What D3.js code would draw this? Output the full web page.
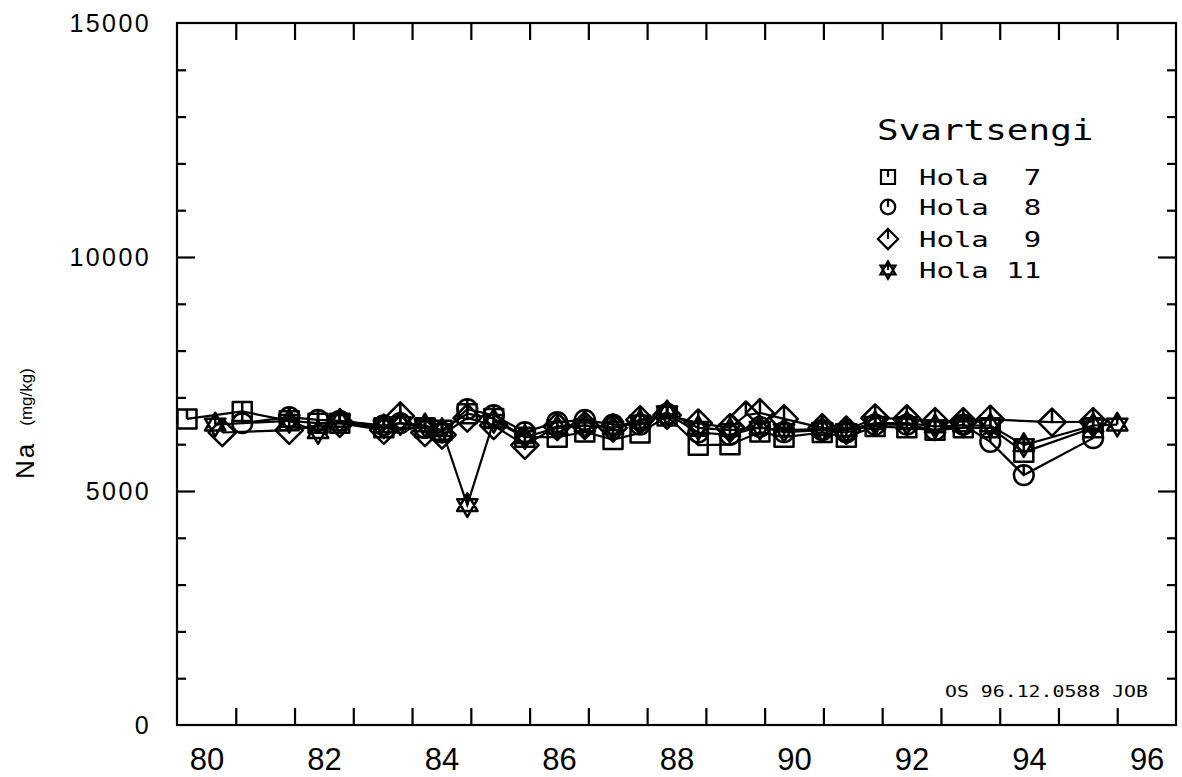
<!DOCTYPE html>
<html>
<head>
<meta charset="utf-8">
<script src="https://cdn.jsdelivr.net/npm/d3@7"></script>
<style>
  html, body { margin: 0; padding: 0; background: #fff; }
  svg { display: block; }
</style>
</head>
<body>
<svg id="chart" width="1182" height="777"></svg>
<script>
// ---------------- data ----------------
const seriesNames = ["Hola  7", "Hola  8", "Hola  9", "Hola 11"];
const legendTitle = "Svartsengi";
const yLabelMain = "Na";
const yLabelUnit = "(mg/kg)";
const footnote = "OS 96.12.0588 JOB";

const xLabelValues = [80, 82, 84, 86, 88, 90, 92, 94, 96];
const xTickValues = [80.5, 81.5, 82.5, 83.5, 84.5, 85.5, 86.5, 87.5, 88.5, 89.5, 90.5, 91.5, 92.5, 93.5, 94.5, 95.5];
const yLabelValues = [0, 5000, 10000, 15000];
const yMinorTicks = [1000, 2000, 3000, 4000, 6000, 7000, 8000, 9000, 11000, 12000, 13000, 14000];
const yMajorTicks = [5000, 10000];

// Hola 7 (square)
const h7Years = [79.67, 80.61, 81.41, 81.90, 82.27, 83.02, 83.72, 84.01, 84.44, 84.89, 85.42, 85.97, 86.44, 86.92, 87.38, 87.84, 88.37, 88.91, 89.42, 89.83, 90.48, 90.89, 91.38, 91.92, 92.40, 92.88, 93.34, 93.91, 95.09];
const h7Na    = [6540, 6700, 6500, 6450, 6450, 6350, 6350, 6300, 6650, 6550, 6150, 6150, 6260, 6100, 6240, 6600, 5980, 5990, 6260, 6150, 6250, 6150, 6380, 6350, 6300, 6350, 6350, 5830, 6350];
// Hola 8 (circle)
const h8Years = [80.61, 81.41, 81.90, 82.27, 83.02, 83.30, 83.72, 84.01, 84.44, 84.89, 85.42, 85.97, 86.44, 86.92, 87.38, 87.84, 88.37, 88.91, 89.42, 89.83, 90.48, 90.89, 91.38, 91.92, 92.40, 92.88, 93.34, 93.91, 95.09];
const h8Na    = [6450, 6580, 6520, 6500, 6400, 6450, 6350, 6250, 6750, 6620, 6260, 6470, 6520, 6420, 6420, 6650, 6250, 6200, 6370, 6260, 6300, 6250, 6420, 6420, 6300, 6420, 6050, 5340, 6130];
// Hola 9 (diamond)
const h9Years = [80.27, 81.41, 82.27, 83.02, 83.30, 83.72, 84.01, 84.44, 84.89, 85.42, 85.97, 86.44, 86.92, 87.38, 87.84, 88.37, 88.91, 89.18, 89.42, 89.83, 90.48, 90.89, 91.38, 91.92, 92.40, 92.88, 93.34, 94.39, 95.09];
const h9Na    = [6250, 6300, 6450, 6300, 6600, 6250, 6200, 6560, 6400, 5980, 6380, 6400, 6350, 6520, 6620, 6450, 6350, 6620, 6670, 6540, 6350, 6300, 6560, 6540, 6480, 6480, 6530, 6470, 6480];
// Hola 11 (star)
const h11Years = [80.15, 81.41, 81.90, 82.27, 83.02, 83.30, 83.72, 84.01, 84.44, 84.89, 85.42, 85.97, 86.44, 86.92, 87.38, 87.84, 88.37, 88.91, 89.42, 89.83, 90.48, 90.89, 91.38, 91.92, 92.40, 92.88, 93.34, 93.91, 95.09, 95.50];
const h11Na    = [6420, 6500, 6260, 6500, 6380, 6450, 6400, 6300, 4700, 6500, 6150, 6350, 6400, 6350, 6480, 6680, 6350, 6300, 6350, 6300, 6320, 6300, 6450, 6450, 6380, 6400, 6400, 5980, 6400, 6420];

const allYears = [h7Years, h8Years, h9Years, h11Years];
const allNa = [h7Na, h8Na, h9Na, h11Na];
const markerKinds = ["square", "circle", "diamond", "star"];

// ---------------- layout ----------------
const svg = d3.select("#chart");
const plotL = 177, plotR = 1176, plotT = 23, plotB = 725;

const x = d3.scaleLinear().domain([79.5, 96.5]).range([plotL, plotR]);
const y = d3.scaleLinear().domain([0, 15000]).range([plotB, plotT]);

const labelFont = "'Liberation Sans', Arial, sans-serif";
const monoFont = "'DejaVu Sans Mono', 'Liberation Mono', monospace";

// frame
svg.append("rect")
  .attr("x", plotL).attr("y", plotT)
  .attr("width", plotR - plotL).attr("height", plotB - plotT)
  .attr("fill", "none").attr("stroke", "#000").attr("stroke-width", 2.2);

function styleAxis(g) {
  g.select(".domain").remove();
  g.selectAll(".tick line").attr("stroke", "#000").attr("stroke-width", 2.2);
}

// x ticks bottom (inward) and top (inward)
svg.append("g").attr("transform", `translate(0,${plotB})`)
  .call(d3.axisBottom(x).tickValues(xTickValues).tickSize(-17).tickFormat(""))
  .call(styleAxis);
svg.append("g").attr("transform", `translate(0,${plotT})`)
  .call(d3.axisTop(x).tickValues(xTickValues).tickSize(-17).tickFormat(""))
  .call(styleAxis);

// x labels
const xl = svg.append("g").attr("transform", `translate(0,${plotB})`)
  .call(d3.axisBottom(x).tickValues(xLabelValues).tickSize(0).tickPadding(45).tickFormat(d3.format("d")));
xl.select(".domain").remove();
xl.selectAll("text").attr("font-family", labelFont).attr("font-size", 31).attr("fill", "#000")
  .attr("dy", 0);

// y ticks left & right
[[yMinorTicks, 9], [yMajorTicks, 18]].forEach(([vals, len]) => {
  svg.append("g").attr("transform", `translate(${plotL},0)`)
    .call(d3.axisLeft(y).tickValues(vals).tickSize(-len).tickFormat(""))
    .call(styleAxis);
  svg.append("g").attr("transform", `translate(${plotR},0)`)
    .call(d3.axisRight(y).tickValues(vals).tickSize(-len).tickFormat(""))
    .call(styleAxis);
});

// y labels
const yl = svg.append("g").attr("transform", `translate(${plotL},0)`)
  .call(d3.axisLeft(y).tickValues(yLabelValues).tickSize(0).tickPadding(26).tickFormat(d3.format("d")));
yl.select(".domain").remove();
yl.selectAll("text").attr("font-family", labelFont).attr("font-size", 25)
  .attr("letter-spacing", 2.4).attr("fill", "#000");

// y axis title
const yt = svg.append("text")
  .attr("transform", `translate(34,479) rotate(-90)`)
  .attr("font-family", labelFont).attr("fill", "#000");
yt.append("tspan").attr("font-size", 26).attr("letter-spacing", 2).text(yLabelMain);
yt.append("tspan").attr("font-size", 17).attr("dx", 16).attr("dy", -2).text(yLabelUnit);

// ---------------- markers ----------------
function markerPath(kind, s) {
  const p = d3.path();
  if (kind === "square") {
    const h = s * 0.5;
    p.rect(-h, -h, 2 * h, 2 * h);
    p.moveTo(0, -h); p.lineTo(0, 0);
  } else if (kind === "circle") {
    const r = s * 0.52;
    p.moveTo(r, 0); p.arc(0, 0, r, 0, 2 * Math.PI);
    p.moveTo(0, -r); p.lineTo(0, 0);
  } else if (kind === "diamond") {
    const r = s * 0.72;
    p.moveTo(0, -r); p.lineTo(r, 0); p.lineTo(0, r); p.lineTo(-r, 0); p.closePath();
    p.moveTo(0, -r); p.lineTo(0, 0);
  } else {
    const r = s * 0.62;
    const c = Math.cos(Math.PI / 6) * r;
    p.moveTo(0, -r); p.lineTo(c, r / 2); p.lineTo(-c, r / 2); p.closePath();
    p.moveTo(0, r); p.lineTo(c, -r / 2); p.lineTo(-c, -r / 2); p.closePath();
    p.moveTo(0, -r); p.lineTo(0, 0);
  }
  return p.toString();
}

const line = d3.line().x(d => x(d[0])).y(d => y(d[1]));

allYears.forEach((yrs, i) => {
  const pts = yrs.map((yr, j) => [yr, allNa[i][j]]);
  svg.append("path").datum(pts)
    .attr("d", line).attr("fill", "none")
    .attr("stroke", "#000").attr("stroke-width", 2.2);
});

allYears.forEach((yrs, i) => {
  const pts = yrs.map((yr, j) => [yr, allNa[i][j]]);
  svg.append("g").selectAll("path").data(pts).join("path")
    .attr("transform", d => `translate(${x(d[0])},${y(d[1])})`)
    .attr("d", markerPath(markerKinds[i], 19))
    .attr("fill", "none").attr("stroke", "#000").attr("stroke-width", 2.5)
    .attr("stroke-linejoin", "round");
});

// ---------------- legend ----------------
svg.append("text")
  .attr("transform", "translate(877,140) scale(1.24,1)")
  .attr("font-family", monoFont).attr("font-size", 29)
  .attr("fill", "#000").text(legendTitle);

const legendRowY = [177, 207, 239, 270];
seriesNames.forEach((name, i) => {
  svg.append("path")
    .attr("transform", `translate(888,${legendRowY[i]})`)
    .attr("d", markerPath(markerKinds[i], 14))
    .attr("fill", "none").attr("stroke", "#000").attr("stroke-width", 2.2);
  svg.append("text")
    .attr("transform", `translate(919,${legendRowY[i] + 8}) scale(1.38,1)`)
    .attr("font-family", monoFont).attr("font-size", 21)
    .attr("fill", "#000").attr("xml:space", "preserve").style("white-space", "pre")
    .text(name);
});

// footnote
svg.append("text")
  .attr("transform", "translate(945,697) scale(1.24,1)")
  .attr("font-family", monoFont).attr("font-size", 16)
  .attr("fill", "#000").text(footnote);
</script>
</body>
</html>
